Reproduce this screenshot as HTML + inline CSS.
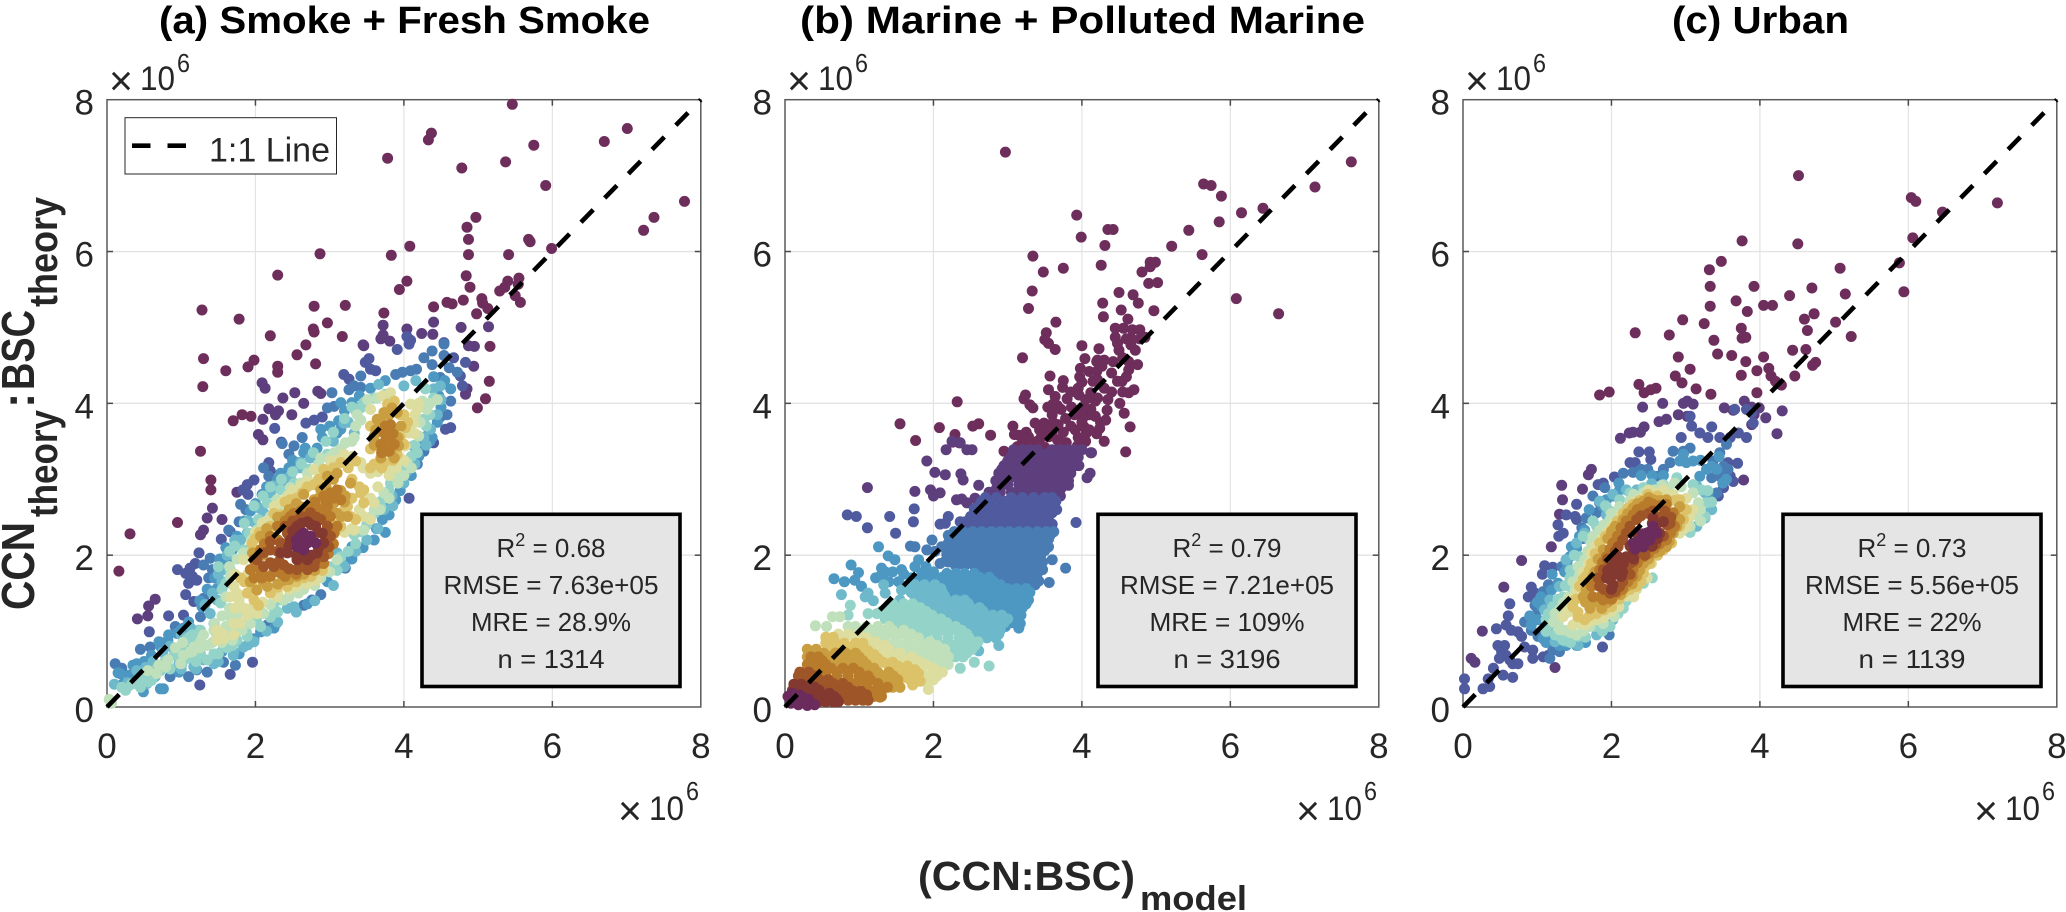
<!DOCTYPE html>
<html lang="en">
<head>
<meta charset="utf-8">
<title>CCN:BSC theory versus model scatter panels</title>
<style>
html,body{margin:0;padding:0;background:#fff;}
#figure{display:block;width:2066px;height:912px;font-family:"Liberation Sans",sans-serif;}
</style>
</head>
<body>
<svg id="figure" width="2066" height="912" viewBox="0 0 2066 912"></svg>
<script>
// ---------- shared axis content ----------
const tickValues = [0, 2, 4, 6, 8];
const gridValues = [2, 4, 6];
const axisMax = [8];
const identityLine = [0, 8];
const panelTitles = ["(a) Smoke + Fresh Smoke", "(b) Marine + Polluted Marine", "(c) Urban"];
const r2Labels = ["0.68", "0.79", "0.73"];
const rmseLabels = ["7.63e+05", "7.21e+05", "5.56e+05"];
const mreLabels = ["28.9%", "109%", "22%"];
const countLabels = ["1314", "3196", "1139"];

// ---------- series: [x,y,x,y,...] in units of 10^6, one list per density level (low to high) ----------
const smokeByDensity = [
[5.46,7.94,4.37,7.56,4.33,7.47,6.70,7.45,7.01,7.62,5.75,7.40,3.78,7.23,5.37,7.18,4.78,7.10,5.91,6.87,7.78,6.66,7.37,6.45,7.23,6.28,4.97,6.45,4.85,6.32,4.87,6.16,5.68,6.16,5.70,6.13,5.99,6.04,4.87,5.96,5.41,5.96,4.08,6.07,3.83,5.95,2.87,5.97,2.30,5.69,4.84,5.68,4.89,5.53,4.04,5.61,3.94,5.50,5.55,5.65,5.40,5.61,5.54,5.57,5.29,5.48,5.36,5.53,5.50,5.42,5.57,5.33,5.05,5.38,5.06,5.32,4.80,5.36,4.58,5.33,4.65,5.31,5.13,5.25,4.40,5.27,3.21,5.29,2.79,5.28,1.28,5.23,4.98,5.18,3.73,5.19,1.78,5.11,2.97,5.06,2.78,4.98,2.79,4.94,2.20,4.89,3.17,4.88,5.16,4.75,2.68,4.77,2.56,4.64,1.30,4.59,1.60,4.43,1.29,4.22,1.90,4.48,1.98,4.57,2.30,4.49,2.30,4.41,2.81,4.52,1.26,3.37,1.40,2.99,1.40,2.86,0.95,2.43,0.31,2.28,0.16,1.79,1.70,3.77,1.82,3.85,1.94,3.83,5.15,4.29,5.10,4.06,4.99,3.94],
[4.40,5.07,3.72,5.03,5.14,5.01,4.77,5.00,4.04,4.98,4.24,4.92,4.39,4.91,3.72,4.90,3.69,4.85,3.81,4.82,3.45,4.77,3.46,4.76,4.95,4.75,4.87,4.76,2.09,4.27,2.13,4.20,2.53,4.14,2.37,4.07,2.65,4.00,2.84,4.16,2.88,4.13,2.18,3.93,2.31,3.90,2.27,3.85,2.49,3.85,2.10,3.79,1.42,2.62,1.35,2.49,1.30,2.33,1.26,2.27,0.65,1.42,0.56,1.33,0.55,1.20,0.41,1.16,4.94,4.49,4.85,4.19,4.83,4.12,2.04,3.59,2.10,3.52,1.55,2.47,1.75,2.83],
[4.04,4.88,4.09,4.83,4.07,4.78,3.91,4.71,2.26,3.67,2.35,3.49,2.68,3.74,2.79,3.78,2.90,3.82,1.24,2.03,1.19,1.89,1.12,1.83,1.06,1.76,1.15,1.72,1.10,1.63,1.21,1.67,0.95,1.81,1.06,1.48,1.17,1.39,0.83,1.20,1.03,1.21,0.57,0.99,1.66,2.31,1.54,2.21,1.96,0.59,1.66,0.43,1.25,0.29,4.07,2.75,3.53,4.59,3.48,4.54,3.55,4.45,3.62,4.43,3.19,4.38,3.26,4.32,4.54,4.80,4.67,4.60,4.83,4.54,4.76,4.36,4.79,4.23,4.63,3.68,4.56,3.66,4.40,3.48,2.18,3.22,2.20,3.11,1.98,2.99,1.89,2.93,1.83,2.86,1.90,2.80],
[4.54,4.78,4.27,4.60,4.38,4.69,4.54,4.63,4.38,4.51,4.49,4.34,4.61,4.47,4.72,4.41,3.42,4.36,3.33,4.23,3.26,4.18,3.42,4.21,3.89,4.38,3.98,4.41,4.09,4.43,4.17,4.45,3.03,4.14,2.97,3.94,3.06,3.96,4.63,4.03,4.58,3.85,4.49,3.82,4.31,3.57,4.27,3.37,2.11,3.15,2.18,3.04,2.45,3.33,2.52,3.44,2.63,3.55,2.36,3.47,1.80,2.67,1.87,2.60,1.78,2.44,1.64,2.33,1.39,1.96,1.30,1.87,1.42,1.81,1.37,1.70,1.30,1.43,1.26,1.19,2.28,1.10,2.16,1.08,2.88,1.48,2.76,1.41,2.65,1.34,3.21,1.83,3.98,2.94,4.18,3.20,0.92,1.06,0.58,0.79,0.45,0.76,0.11,0.57,0.20,0.51,1.73,0.55,1.57,0.59,1.35,0.46,1.21,0.49,1.10,0.40,0.85,0.40],
[2.88,3.66,2.90,3.55,2.83,3.41,3.12,3.77,3.15,3.66,3.10,3.61,3.15,4.01,3.30,4.01,2.67,3.41,2.34,3.08,2.45,3.15,2.58,3.22,2.09,2.80,2.20,2.83,1.93,2.58,1.57,1.89,1.62,1.94,1.69,2.07,1.55,1.59,1.48,1.56,1.28,1.32,1.15,1.01,1.03,1.04,0.94,0.97,0.70,0.86,0.83,0.95,2.25,1.04,1.98,0.90,2.07,0.99,1.78,0.70,1.55,0.73,0.97,0.46,0.76,0.24,0.72,0.24,0.49,0.20,0.58,0.62,0.40,0.57,0.22,0.31,0.18,0.44,3.89,2.73,3.82,2.69,3.80,2.53,3.71,2.47,3.63,2.35,4.25,3.46,4.38,3.55,4.52,4.25,4.47,4.10,4.63,4.19,2.70,1.36,2.97,1.65,3.30,2.11,3.24,1.94],
[3.66,4.25,4.00,4.23,4.16,4.30,3.19,3.74,3.33,3.61,2.74,3.28,2.61,3.22,2.38,2.95,2.25,2.91,2.47,3.04,2.11,2.56,2.00,2.42,1.89,2.29,1.80,2.20,1.60,1.81,1.55,1.65,1.48,1.41,1.39,1.23,1.24,1.01,1.08,0.86,0.81,0.59,0.65,0.40,0.54,0.31,0.40,0.31,0.27,0.26,1.98,0.86,1.84,0.79,1.71,0.73,3.84,2.78,3.73,2.60,4.13,3.44,4.27,3.55,4.36,3.66,4.04,3.11,4.40,4.19,4.49,4.23,3.15,1.92,3.10,2.03,2.52,1.32,2.43,1.30,1.44,0.57,1.30,0.62,1.17,0.53,0.97,0.57],
[3.35,3.90,3.42,3.94,3.46,4.01,3.60,4.07,3.75,4.12,2.97,3.33,3.10,3.33,2.88,3.28,2.72,3.13,2.52,2.95,2.34,2.86,2.16,2.69,2.04,2.47,1.91,2.29,1.84,2.07,1.66,1.81,1.60,1.63,1.53,1.37,1.44,1.10,1.26,1.01,1.12,0.86,0.97,0.70,0.72,0.48,0.56,0.33,0.45,0.26,0.20,0.26,2.07,1.06,1.89,0.93,1.69,0.81,1.57,0.81,1.44,0.70,1.26,0.70,1.08,0.64,1.01,0.57,2.34,1.41,2.25,1.30,3.42,2.31,3.33,2.27,3.73,2.75,3.69,2.64,3.82,2.95,3.96,3.08,4.18,3.35,4.27,3.79,4.40,4.07,4.29,4.19,3.15,1.98],
[3.51,4.05,3.64,4.07,3.37,3.85,3.33,3.55,3.21,3.48,3.06,3.35,2.88,3.28,2.70,3.08,2.61,2.95,2.47,2.89,2.29,2.73,2.20,2.51,2.02,2.33,1.84,2.03,1.66,1.72,1.60,1.45,1.66,1.19,1.60,1.06,1.44,1.01,1.26,0.86,1.15,0.73,0.99,0.57,0.79,0.53,0.67,0.44,1.82,1.01,1.93,1.10,2.11,1.23,2.38,1.41,2.58,1.50,2.88,1.70,3.10,1.94,3.46,2.33,3.60,2.60,3.73,2.82,3.87,3.04,4.04,3.22,4.20,3.57,4.31,3.92,4.25,4.03,4.45,4.05,1.48,0.93,1.35,0.81,1.55,0.95,1.69,0.88,1.17,0.79,1.03,0.68,0.03,0.10,0.06,0.05],
[3.71,4.10,3.82,4.14,3.55,3.92,4.09,3.99,4.18,3.92,4.13,3.74,4.07,3.61,4.02,3.44,3.96,3.26,3.78,3.13,3.55,3.08,3.42,3.22,3.19,3.33,3.01,3.24,2.79,3.13,2.61,2.91,2.43,2.78,2.25,2.64,2.09,2.42,2.11,2.29,1.96,2.11,1.84,1.94,1.71,1.59,1.78,1.41,1.89,1.21,2.02,1.23,1.80,1.10,1.71,1.10,2.29,1.45,2.56,1.59,2.81,1.67,2.94,1.81,3.33,2.33,3.55,2.47,3.60,2.69,3.46,2.51,1.48,1.01,1.55,0.97,1.80,1.32,1.66,1.45,1.48,0.88,1.57,0.90,1.71,0.95],
[3.78,3.99,3.87,4.03,4.00,3.85,4.02,3.68,4.00,3.46,3.91,3.33,3.73,3.22,3.55,3.15,3.35,3.24,3.15,3.22,2.92,3.13,2.79,2.93,2.63,2.82,2.47,2.73,2.34,2.53,2.20,2.38,2.16,2.31,2.00,2.22,1.80,1.70,1.89,1.50,2.04,1.34,1.98,1.41,2.20,1.50,2.43,1.59,2.65,1.70,3.42,2.82,3.46,2.69,3.35,2.47,3.15,2.38,3.46,2.86,3.24,2.64,3.28,2.51],
[3.84,3.94,3.91,3.88,3.96,3.70,3.87,3.66,3.93,3.44,3.87,3.28,3.69,3.28,3.60,3.57,3.64,3.79,3.73,3.88,3.10,3.08,2.97,3.04,3.28,2.95,3.21,2.78,3.06,2.69,2.88,2.86,2.79,2.73,2.61,2.64,2.47,2.60,3.15,2.51,3.24,2.51,2.38,2.51,2.29,2.38,2.02,1.54,1.93,1.65,2.16,1.59,2.38,1.67,2.56,1.72,2.74,1.81,2.88,1.89,2.07,2.25,1.96,2.03],
[3.73,3.61,3.80,3.52,3.87,3.46,3.69,3.46,3.80,3.37,3.75,3.70,3.82,3.72,3.10,2.86,3.01,2.82,2.92,2.78,3.15,2.73,2.97,2.64,2.88,2.60,2.74,2.64,2.61,2.58,2.47,2.51,2.20,2.25,2.07,2.07,1.98,1.94,1.93,1.81,2.07,1.81,2.20,1.72,2.34,1.76,2.47,1.81,2.09,1.70,1.98,1.70,2.92,1.89,3.06,2.29,3.10,2.38,3.01,2.51],
[2.20,2.18,2.11,2.03,2.02,1.94,2.20,2.07,2.11,1.85,2.25,1.85,2.38,1.87,2.61,2.51,2.74,2.56,2.88,2.47,2.97,2.38,3.01,2.25,2.99,2.11,2.92,1.98,2.79,1.85,2.70,1.81,2.56,1.81,2.34,2.16,2.43,2.29,2.49,2.40],
[2.56,2.38,2.70,2.44,2.81,2.38,2.90,2.29,2.92,2.16,2.83,2.03,2.70,1.94,2.56,1.94,2.43,2.03,2.47,2.20,2.34,2.03,2.52,2.29],
[2.65,2.29,2.74,2.25,2.81,2.16,2.65,2.07,2.56,2.11,2.70,2.16,2.63,2.18]
];
const smokeInfill = [
[],[],[],[],
[0.15,0.45,0.30,0.42,0.35,0.55,0.50,0.60,0.60,0.68,0.72,0.80,0.82,0.88,1.00,1.02,1.10,1.12,1.25,1.40,1.35,1.55,1.45,1.70,1.52,1.95,1.60,2.10,1.75,2.25,1.85,2.45,2.00,2.68,2.15,2.90,2.30,3.00,2.50,3.25,2.65,3.35,3.00,3.70,3.20,3.90,3.40,4.10,3.55,4.20,3.75,4.30,3.30,1.95,3.45,2.10,3.60,2.20,3.75,2.30,3.95,2.85,4.10,3.05,4.20,3.30,4.35,3.50,4.45,3.75,4.50,3.95,4.55,4.30,4.40,4.35],
[0.10,0.30,0.28,0.32,0.40,0.48,0.52,0.52,0.62,0.60,0.75,0.72,0.85,0.80,1.00,0.95,1.12,1.05,1.32,1.35,1.42,1.50,1.50,1.75,1.62,2.00,1.72,2.20,1.90,2.45,2.05,2.62,2.20,2.82,2.40,3.00,2.60,3.15,2.80,3.30,3.05,3.50,3.25,3.75,3.40,3.95,1.00,0.50,1.20,0.50,1.50,0.60,1.70,0.68,1.90,0.82,2.15,1.00,2.30,1.12,2.55,1.25,2.80,1.40,3.05,1.60,3.20,1.85,3.35,2.05,3.50,2.20,3.65,2.35,3.85,2.65,4.00,2.95,4.15,3.20,4.30,3.45,4.45,3.85,4.50,4.05],
[0.25,0.22,0.33,0.30,0.42,0.35,0.50,0.42,0.60,0.35,0.68,0.52,0.78,0.60,0.85,0.50,0.90,0.68,1.00,0.78,1.08,0.90,1.15,0.95,1.20,0.60,1.35,0.62,1.50,0.70,1.62,0.78,1.75,0.88,1.88,0.98,2.02,1.12,2.20,1.18,2.30,1.25,1.50,1.85,1.55,1.55,1.65,2.05,1.72,2.12,1.85,2.42,1.98,2.65,2.10,2.78,2.20,2.90,2.35,3.00,2.50,3.10,2.62,3.20,2.78,3.35,2.95,3.50,3.05,3.62,3.20,3.80,3.30,3.95,3.00,1.85,3.10,1.80,3.25,2.05,3.35,2.15,3.50,2.40,3.60,2.55,3.68,2.70,3.80,2.85,3.90,3.00,4.00,3.12,4.10,3.30,4.15,3.45,4.30,3.70,4.35,3.85],
[0.55,0.48,0.70,0.55,0.82,0.62,0.92,0.78,1.02,0.85,1.12,0.72,1.25,0.78,1.30,0.95,1.42,0.85,1.45,1.10,1.55,0.85,1.62,0.98,1.72,1.02,1.55,1.20,1.65,1.30,1.75,1.20,1.90,1.18,2.05,1.30,2.20,1.35,2.45,1.45,2.65,1.55,2.80,1.60,3.00,1.78,1.65,1.85,1.75,1.95,1.95,2.20,2.05,2.30,2.30,2.60,2.55,2.85,2.70,3.00,2.85,3.20,3.00,3.30,3.15,3.40,3.30,3.50,3.35,3.70,3.42,3.78,3.55,2.50,3.68,2.60,3.80,2.75,3.92,2.95,4.00,3.05,4.10,3.15,4.22,3.75,4.35,4.00],
[1.72,1.75,1.75,1.50,1.72,1.30,1.85,1.30,1.95,1.30,1.90,1.75,2.10,1.38,2.30,1.50,2.45,1.55,2.70,1.62,2.85,1.75,2.00,2.30,2.15,2.45,2.35,2.70,2.50,2.85,2.70,2.98,2.90,3.05,3.10,3.25,3.30,3.30,3.45,3.15,3.65,3.10,3.80,3.05,3.90,3.15,4.00,3.25,4.15,3.60,4.15,3.85,4.20,4.00,3.65,2.90,3.55,2.75,3.40,2.60,3.30,2.35,3.20,2.30],
[1.85,1.65,1.95,1.60,1.95,2.15,2.05,2.30,2.25,2.55,2.40,2.70,2.55,2.75,2.70,2.90,2.85,3.00,3.05,3.15,3.25,3.15,3.30,3.00,3.40,2.90,3.30,2.75,3.20,2.60,3.10,2.35,3.05,2.40,2.30,1.58,2.55,1.65,2.75,1.72,2.90,1.80,3.60,3.20,3.70,3.15,3.85,3.25,3.95,3.55,3.95,3.85,4.05,3.75,3.55,3.40,3.55,3.70],
[2.10,2.00,2.15,2.35,2.30,2.50,2.45,2.60,2.55,2.68,2.65,2.80,2.85,2.75,2.95,2.90,3.05,3.00,3.15,2.85,3.20,2.70,3.10,2.55,3.00,2.60,2.98,2.72,2.10,1.65,2.30,1.62,2.45,1.68,2.65,1.75,2.80,1.80,3.60,3.45,3.70,3.40,3.82,3.35,3.92,3.55,3.70,3.75,3.80,3.85,3.62,3.65],
[2.12,2.15,2.30,2.20,2.00,1.85,2.10,1.75,2.25,1.78,2.40,1.72,2.55,1.75,2.70,1.85,2.85,1.90,2.98,2.02,3.05,2.15,3.02,2.35,2.95,2.50,2.80,2.58,2.68,2.55,2.52,2.55,2.40,2.45,2.30,2.38,3.75,3.50,3.70,3.35,3.78,3.62,3.85,3.60,3.05,2.75,2.95,2.68,2.80,2.70],
[2.30,2.05,2.40,2.15,2.20,1.90,2.32,1.92,2.45,1.82,2.65,1.85,2.80,1.92,2.90,2.05,2.95,2.30,2.82,2.50,2.65,2.50,2.50,2.45,2.40,2.38],
[2.45,2.12,2.55,2.00,2.65,1.98,2.75,2.00,2.85,2.10,2.85,2.30,2.75,2.40,2.62,2.42,2.50,2.32],
[2.60,2.25,2.68,2.22,2.75,2.20,2.62,2.12,2.55,2.20]
];

const marineByDensity = [
[2.97,7.31,7.63,7.18,7.14,6.85,5.64,6.89,5.74,6.87,5.88,6.73,6.44,6.57,6.15,6.51,5.85,6.39,3.93,6.48,3.99,6.19,4.35,6.29,4.42,6.29,4.31,6.08,5.44,6.28,5.21,6.07,5.62,5.96,3.34,5.94,4.26,5.82,3.75,5.78,3.48,5.73,4.99,5.86,4.92,5.86,4.92,5.80,4.81,5.73,4.90,5.58,5.02,5.59,3.33,5.48,4.50,5.46,4.69,5.43,4.28,5.32,4.76,5.32,3.28,5.25,4.53,5.23,4.97,5.22,6.08,5.38,6.65,5.18,4.29,5.14,4.62,5.11,3.65,5.07,4.45,4.99,4.56,4.99,4.68,4.97,4.78,4.97,3.52,4.93,3.50,4.84,3.55,4.79,3.64,4.71,4.45,4.87,4.48,4.79,4.66,4.86,4.66,4.77,4.85,4.87,4.00,4.76,4.23,4.72,3.20,4.60,4.04,4.59,4.21,4.57,4.30,4.57,4.63,4.55,4.75,4.51,3.98,4.46,4.20,4.42,4.27,4.49,4.63,4.44,4.60,4.35,4.54,4.29,4.48,4.29,3.57,4.36,3.97,4.35,4.15,4.29,4.21,4.31,3.74,4.21,3.55,4.18,3.64,4.09,3.95,4.20,3.96,4.11,4.12,4.14,4.30,4.20,4.21,4.07,4.63,4.14,4.70,4.18,3.24,4.11,3.22,4.06,3.30,3.98,3.34,3.94,3.80,4.06,3.54,3.95,3.61,3.99,3.67,3.97,3.86,3.95,3.94,3.89,4.03,3.95,4.18,4.03,4.12,3.92,4.03,3.83,4.18,3.83,4.51,4.00,4.34,3.91,4.57,3.87,4.32,3.78,4.65,3.69,4.59,3.36,2.32,4.02,1.55,3.73,2.08,3.68,1.76,3.51,2.53,3.70,2.61,3.73,2.29,3.59,2.26,3.49,2.35,3.48,2.77,3.58,3.07,3.70,3.09,3.59,3.25,3.52,3.37,3.74,3.49,3.74,3.61,3.75,3.43,3.65,3.55,3.65,3.55,3.56,3.67,3.52,3.40,3.50,3.91,3.65,4.03,3.69,4.06,3.61,3.97,3.52,3.94,3.44,4.24,3.67,4.12,3.35,3.79,3.48,3.85,3.35,3.67,3.39,3.28,3.56,3.13,3.43,2.95,3.37],
[1.91,3.24,2.02,3.09,2.16,3.06,2.37,3.07,2.40,2.99,1.11,2.89,1.75,2.84,1.96,2.86,2.00,2.78,2.09,2.82,2.61,2.92,2.38,2.74,2.31,2.73,2.45,2.69,2.56,2.75,2.17,3.39,2.25,3.50,2.36,3.48,2.45,3.39,2.52,3.39,3.08,3.39,3.20,3.39,3.30,3.39,3.40,3.39,3.60,3.39,3.70,3.39,3.80,3.39,3.90,3.39,4.00,3.39,3.04,3.29,3.15,3.29,3.30,3.29,3.45,3.29,3.65,3.29,3.75,3.29,3.85,3.29,3.95,3.29,2.95,3.18,3.10,3.18,3.22,3.18,3.35,3.18,3.58,3.18,3.68,3.18,3.80,3.18,3.92,3.18,2.88,3.08,3.00,3.08,3.18,3.08,3.32,3.08,3.45,3.08,3.55,3.08,3.65,3.08,3.75,3.08,3.85,3.08,2.84,2.98,3.00,2.98,3.28,2.98,3.40,2.98,3.50,2.98,3.60,2.98,3.70,2.98,3.82,2.98,2.85,2.88,3.22,2.88,3.32,2.88,3.42,2.88,3.52,2.88,3.62,2.88,3.72,2.88,3.82,2.92,3.71,2.78,4.11,3.08,4.07,3.02,3.96,3.18,3.84,3.24,4.13,3.35],
[0.84,2.53,0.96,2.51,1.11,2.36,1.41,2.51,1.49,2.29,1.74,2.61,1.73,2.44,2.09,2.41,2.20,2.51,2.16,2.42,2.36,2.44,2.43,2.44,3.92,2.43,3.66,2.60,3.62,2.31,2.70,2.76,2.85,2.76,3.05,2.76,3.20,2.76,3.35,2.76,3.50,2.76,3.60,2.76,2.62,2.66,2.75,2.66,2.92,2.66,3.10,2.66,3.22,2.66,3.35,2.66,3.48,2.66,3.60,2.66,2.62,2.56,2.75,2.56,2.87,2.56,3.00,2.56,3.12,2.56,3.25,2.56,3.37,2.56,3.50,2.56,3.60,2.56,2.55,2.46,2.67,2.46,2.80,2.46,2.92,2.46,3.05,2.46,3.17,2.46,3.30,2.46,3.42,2.46,3.55,2.46,2.48,2.36,2.60,2.36,2.72,2.36,2.85,2.36,2.97,2.36,3.10,2.36,3.22,2.36,3.35,2.36,3.47,2.36,3.57,2.36],
[1.98,2.20,1.75,2.11,1.69,2.12,1.91,2.07,3.60,1.94,3.78,1.83,3.56,1.64,2.20,2.16,2.11,2.11,2.02,2.05,2.09,1.89,2.16,1.92,2.20,2.26,2.32,2.26,2.45,2.26,2.57,2.26,2.70,2.26,2.82,2.26,2.95,2.26,3.07,2.26,3.20,2.26,3.32,2.26,3.45,2.26,3.57,2.26,2.25,2.16,2.37,2.16,2.50,2.16,2.62,2.16,2.75,2.16,2.87,2.16,3.00,2.16,3.12,2.16,3.25,2.16,3.37,2.16,3.50,2.16,2.25,2.06,2.37,2.06,2.50,2.06,2.62,2.06,2.75,2.06,2.87,2.06,3.00,2.06,3.12,2.06,3.25,2.06,3.37,2.06,3.50,2.06,2.28,1.96,2.40,1.96,2.52,1.96,2.65,1.96,2.77,1.96,2.90,1.96,3.02,1.96,3.15,1.96,3.27,1.96,3.40,1.96,2.30,1.86,2.42,1.86,2.55,1.86,2.67,1.86,2.80,1.86,2.92,1.86,3.05,1.86,3.17,1.86,3.30,1.86,3.42,1.86,2.65,1.76,2.77,1.76,2.90,1.76,3.02,1.76,3.15,1.76,3.27,1.76,3.40,1.76,2.92,1.66,3.05,1.66,3.17,1.66,3.30,1.66,3.42,1.66],
[1.26,2.11,1.39,1.99,1.48,1.94,0.89,1.87,0.99,1.77,1.30,1.83,1.28,1.72,1.22,1.70,1.57,1.81,1.53,1.65,1.62,1.59,1.80,1.94,1.84,1.76,1.93,1.72,1.98,1.59,1.89,1.59,1.71,1.61,1.80,1.67,0.66,1.69,0.80,1.65,0.94,1.67,1.03,1.59,2.18,1.76,2.30,1.76,2.42,1.76,2.55,1.76,2.18,1.66,2.30,1.66,2.42,1.66,2.55,1.66,2.68,1.66,2.80,1.66,2.25,1.56,2.37,1.56,2.50,1.56,2.62,1.56,2.75,1.56,2.87,1.56,3.00,1.56,3.12,1.56,3.25,1.56,2.25,1.46,2.37,1.46,2.50,1.46,2.62,1.46,2.75,1.46,2.87,1.46,3.00,1.46,3.12,1.46,3.25,1.46,2.55,1.36,2.67,1.36,2.80,1.36,2.92,1.36,3.05,1.36,3.17,1.36,3.25,1.36,2.80,1.26,2.92,1.26,3.05,1.26,3.15,1.26,3.17,1.10,2.97,1.06,3.15,1.04],
[0.76,1.48,1.12,1.50,1.19,1.40,1.08,1.45,1.33,1.61,1.35,1.50,1.57,1.54,1.55,1.41,1.65,1.56,1.80,1.56,1.95,1.56,2.10,1.56,1.75,1.46,1.90,1.46,2.05,1.46,2.15,1.46,1.85,1.36,1.97,1.36,2.10,1.36,2.22,1.36,2.35,1.36,2.47,1.36,2.05,1.26,2.17,1.26,2.30,1.26,2.42,1.26,2.55,1.26,2.67,1.26,2.25,1.16,2.37,1.16,2.50,1.16,2.62,1.16,2.75,1.16,2.87,1.16,3.00,1.16,2.40,1.06,2.52,1.06,2.65,1.06,2.77,1.06,2.90,1.06,2.52,0.96,2.65,0.96,2.77,0.96,2.88,0.96,2.88,0.81,2.61,0.74],
[0.88,1.34,0.85,1.21,1.12,1.23,1.24,1.23,2.75,0.54,2.55,0.59,1.45,1.36,1.60,1.36,1.72,1.36,1.30,1.26,1.45,1.26,1.60,1.26,1.75,1.26,1.90,1.26,1.35,1.16,1.50,1.16,1.65,1.16,1.80,1.16,1.95,1.16,2.10,1.16,1.55,1.06,1.70,1.06,1.85,1.06,2.00,1.06,2.15,1.06,2.30,1.06,1.75,0.96,1.90,0.96,2.05,0.96,2.20,0.96,2.35,0.96,2.45,0.96,2.05,0.86,2.20,0.86,2.35,0.86,2.50,0.86,2.60,0.86,2.25,0.76,2.40,0.76,2.52,0.76,2.30,0.66,2.40,0.66,2.36,0.51],
[0.64,1.19,0.74,1.19,0.41,1.07,0.56,1.06,0.85,1.06,0.92,1.04,0.95,1.06,1.10,1.06,1.25,1.06,1.40,1.06,1.10,0.96,1.25,0.96,1.40,0.96,1.55,0.96,1.70,0.96,1.35,0.86,1.50,0.86,1.65,0.86,1.80,0.86,1.95,0.86,1.55,0.76,1.70,0.76,1.85,0.76,2.00,0.76,2.15,0.76,1.75,0.66,1.90,0.66,2.05,0.66,2.20,0.66,2.05,0.56,2.20,0.56],
[0.72,0.96,0.85,0.96,1.00,0.96,0.95,0.86,1.10,0.86,1.22,0.86,1.12,0.76,1.25,0.76,1.40,0.76,1.40,0.66,1.55,0.66,1.70,0.66,1.60,0.56,1.75,0.56,1.90,0.56,1.85,0.46,2.00,0.46,2.12,0.46,1.88,0.36,2.00,0.36,1.93,0.23],
[0.55,0.92,0.65,0.92,0.55,0.84,0.68,0.84,0.80,0.84,0.95,0.84,1.05,0.84,0.85,0.74,1.00,0.74,1.12,0.74,1.10,0.64,1.25,0.64,1.40,0.54,1.52,0.54,1.65,0.54,1.55,0.44,1.68,0.44,1.80,0.44,1.70,0.34,1.82,0.34],
[0.30,0.76,0.42,0.76,0.30,0.66,0.45,0.66,0.60,0.66,0.75,0.66,0.90,0.66,1.00,0.66,0.65,0.56,0.80,0.56,0.95,0.56,1.10,0.56,1.10,0.46,1.25,0.46,1.40,0.46,1.25,0.36,1.40,0.36,1.52,0.36,1.45,0.26,1.55,0.26],
[0.35,0.66,0.45,0.66,0.30,0.56,0.42,0.56,0.55,0.56,0.42,0.46,0.55,0.46,0.70,0.46,0.85,0.46,1.00,0.46,0.70,0.36,0.85,0.36,1.00,0.36,1.15,0.36,0.95,0.26,1.10,0.26,1.25,0.26,1.38,0.26,1.20,0.14,1.30,0.14,1.28,0.13],
[0.20,0.46,0.32,0.46,0.20,0.36,0.33,0.36,0.46,0.36,0.58,0.36,0.45,0.26,0.58,0.26,0.72,0.26,0.85,0.26,0.62,0.16,0.75,0.16,0.88,0.16,1.00,0.16,1.10,0.16,0.85,0.09,0.95,0.09,1.05,0.09,1.12,0.09],
[0.12,0.30,0.22,0.30,0.10,0.22,0.22,0.22,0.34,0.22,0.46,0.22,0.30,0.14,0.42,0.14,0.54,0.14,0.66,0.14,0.45,0.07,0.55,0.07,0.65,0.07,0.72,0.07],
[0.04,0.14,0.10,0.18,0.18,0.10,0.08,0.05,0.18,0.03,0.28,0.06,0.30,0.02,0.20,0.16,0.40,0.03]
];
const marineInfill = [
[3.25,3.62,3.20,3.48,3.35,3.45,3.45,3.55,3.50,3.42,3.60,3.62,3.70,3.50,3.75,3.62,3.85,3.70,3.95,3.55,4.05,3.50,4.10,3.65,4.00,3.75,3.90,3.85,3.78,3.80,3.68,3.72,3.60,3.85,3.72,3.92,4.00,3.90,4.10,3.85,4.20,3.60,4.25,3.75,4.05,4.05,3.85,4.15,3.75,4.30,4.00,4.28,4.10,4.42,4.20,4.55,4.40,4.40,4.42,4.55,4.50,4.70,4.55,4.15,4.40,4.15,4.35,4.05,4.55,4.60,4.60,4.85,4.72,4.70,4.78,4.85,4.30,3.50,3.15,3.58],
[3.15,3.34,3.25,3.34,3.35,3.34,3.45,3.34,3.55,3.34,3.65,3.34,3.75,3.34,3.85,3.34,3.95,3.34,3.00,3.24,3.10,3.24,3.20,3.24,3.30,3.24,3.40,3.24,3.50,3.24,3.60,3.24,3.70,3.24,3.80,3.24,3.90,3.24,2.92,3.13,3.05,3.13,3.15,3.13,3.28,3.13,3.40,3.13,3.50,3.13,3.62,3.13,3.72,3.13,3.85,3.13,2.95,3.03,3.10,3.03,3.22,3.03,3.35,3.03,3.48,3.03,3.58,3.03,3.68,3.03,3.78,3.03,2.90,2.93,3.00,2.93,3.15,2.93,3.27,2.93,3.37,2.93,3.47,2.93,3.57,2.93,3.67,2.93,3.77,2.93,2.75,2.83,2.90,2.83,3.05,2.83,3.17,2.83,3.27,2.83,3.37,2.83,3.47,2.83,3.57,2.83,3.67,2.83],
[2.65,2.71,2.78,2.71,2.98,2.71,3.12,2.71,3.28,2.71,3.42,2.71,3.55,2.71,3.65,2.71,2.55,2.61,2.68,2.61,2.82,2.61,2.95,2.61,3.05,2.61,3.17,2.61,3.28,2.61,3.42,2.61,3.55,2.61,3.65,2.61,2.50,2.51,2.68,2.51,2.80,2.51,2.93,2.51,3.05,2.51,3.18,2.51,3.30,2.51,3.43,2.51,3.55,2.51,2.42,2.41,2.54,2.41,2.72,2.41,2.85,2.41,2.97,2.41,3.10,2.41,3.22,2.41,3.35,2.41,3.47,2.41,3.60,2.41],
[2.28,2.31,2.40,2.31,2.53,2.31,2.65,2.31,2.78,2.31,2.90,2.31,3.02,2.31,3.15,2.31,3.27,2.31,3.40,2.31,3.52,2.31,3.62,2.31,2.22,2.21,2.32,2.21,2.42,2.21,2.55,2.21,2.68,2.21,2.80,2.21,2.92,2.21,3.05,2.21,3.18,2.21,3.30,2.21,3.42,2.21,3.55,2.21,2.20,2.11,2.30,2.11,2.43,2.11,2.55,2.11,2.68,2.11,2.80,2.11,2.93,2.11,3.05,2.11,3.18,2.11,3.30,2.11,3.43,2.11,3.55,2.11,2.18,2.01,2.30,2.01,2.43,2.01,2.55,2.01,2.70,2.01,2.82,2.01,2.95,2.01,3.08,2.01,3.20,2.01,3.32,2.01,3.45,2.01,2.20,1.91,2.35,1.91,2.48,1.91,2.60,1.91,2.72,1.91,2.85,1.91,2.98,1.91,3.10,1.91,3.22,1.91,3.35,1.91,3.47,1.91,2.60,1.81,2.72,1.81,2.85,1.81,2.97,1.81,3.10,1.81,3.22,1.81,3.35,1.81,3.47,1.81,2.85,1.71,2.97,1.71,3.10,1.71,3.22,1.71,3.35,1.71,3.00,1.61,3.12,1.61,3.25,1.61,3.37,1.61],
[2.12,1.71,2.25,1.71,2.37,1.71,2.50,1.71,2.62,1.71,2.75,1.71,2.12,1.61,2.25,1.61,2.37,1.61,2.50,1.61,2.62,1.61,2.75,1.61,2.90,1.61,2.18,1.51,2.30,1.51,2.43,1.51,2.55,1.51,2.68,1.51,2.80,1.51,2.93,1.51,3.05,1.51,3.18,1.51,3.30,1.51,2.30,1.41,2.43,1.41,2.55,1.41,2.68,1.41,2.80,1.41,2.93,1.41,3.05,1.41,3.18,1.41,3.28,1.41,2.60,1.31,2.73,1.31,2.86,1.31,2.98,1.31,3.10,1.31,3.20,1.31,2.85,1.21,2.98,1.21,3.10,1.21,3.18,1.21,3.05,1.11,3.10,1.11,1.60,1.75,1.70,1.70,1.75,1.85,1.90,1.85,2.00,1.78,2.05,1.65,1.45,1.78,1.40,1.65,1.35,1.78],
[1.75,1.61,1.88,1.61,2.02,1.61,1.70,1.51,1.85,1.51,2.00,1.51,2.12,1.51,1.80,1.41,1.92,1.41,2.05,1.41,2.18,1.41,2.30,1.41,2.42,1.41,1.95,1.31,2.10,1.31,2.23,1.31,2.36,1.31,2.50,1.31,2.62,1.31,2.15,1.21,2.28,1.21,2.42,1.21,2.55,1.21,2.68,1.21,2.80,1.21,2.92,1.21,2.32,1.11,2.45,1.11,2.58,1.11,2.70,1.11,2.82,1.11,2.95,1.11,2.45,1.01,2.58,1.01,2.70,1.01,2.82,1.01,2.90,1.01,2.60,0.91,2.72,0.91,2.84,0.91],
[1.38,1.31,1.52,1.31,1.66,1.31,1.82,1.31,1.38,1.21,1.52,1.21,1.68,1.21,1.82,1.21,1.98,1.21,1.42,1.11,1.58,1.11,1.72,1.11,1.88,1.11,2.02,1.11,2.18,1.11,1.65,1.01,1.80,1.01,1.95,1.01,2.08,1.01,2.22,1.01,2.38,1.01,1.90,0.91,2.05,0.91,2.20,0.91,2.35,0.91,2.48,0.91,2.15,0.81,2.30,0.81,2.45,0.81,2.56,0.81,2.30,0.71,2.45,0.71],
[1.00,1.01,1.15,1.01,1.30,1.01,1.45,1.01,1.60,1.01,1.20,0.91,1.35,0.91,1.50,0.91,1.65,0.91,1.80,0.91,1.45,0.81,1.60,0.81,1.75,0.81,1.90,0.81,2.05,0.81,1.65,0.71,1.80,0.71,1.95,0.71,2.10,0.71,1.85,0.61,2.00,0.61,2.15,0.61,2.10,0.51],
[0.80,0.91,0.95,0.91,1.10,0.91,1.05,0.81,1.20,0.81,1.35,0.81,1.28,0.71,1.42,0.71,1.55,0.71,1.50,0.61,1.65,0.61,1.80,0.61,1.70,0.51,1.85,0.51,2.00,0.51,1.90,0.41,2.05,0.41,1.92,0.31],
[0.62,0.79,0.75,0.79,0.90,0.79,1.02,0.79,0.95,0.69,1.08,0.69,1.20,0.69,1.18,0.59,1.32,0.59,1.45,0.59,1.45,0.49,1.60,0.49,1.75,0.49,1.62,0.39,1.75,0.39,1.72,0.29],
[0.36,0.71,0.52,0.71,0.68,0.71,0.82,0.71,0.95,0.71,0.55,0.61,0.72,0.61,0.88,0.61,1.05,0.61,0.75,0.51,0.90,0.51,1.05,0.51,1.20,0.51,1.18,0.41,1.32,0.41,1.46,0.41,1.35,0.31,1.48,0.31],
[0.38,0.61,0.50,0.61,0.36,0.51,0.48,0.51,0.62,0.51,0.78,0.51,0.92,0.51,0.55,0.41,0.70,0.41,0.85,0.41,1.00,0.41,1.12,0.41,0.80,0.31,0.95,0.31,1.10,0.31,1.25,0.31,1.02,0.21,1.18,0.21,1.30,0.21],
[0.18,0.41,0.30,0.41,0.42,0.41,0.28,0.31,0.40,0.31,0.52,0.31,0.65,0.31,0.78,0.31,0.52,0.21,0.65,0.21,0.80,0.21,0.92,0.21,1.02,0.21,0.70,0.12,0.82,0.12,0.95,0.12,1.08,0.12],
[0.16,0.26,0.28,0.26,0.40,0.26,0.20,0.18,0.35,0.18,0.48,0.18,0.60,0.18,0.38,0.10,0.50,0.10,0.60,0.10,0.70,0.10],
[0.12,0.08,0.25,0.12,0.15,0.13,0.32,0.10]
];

const urbanByDensity = [
[4.52,7.00,6.04,6.71,6.10,6.66,7.20,6.64,6.46,6.52,6.06,6.18,3.76,6.14,4.51,6.10,3.48,5.87,3.32,5.76,5.88,5.85,5.08,5.78,3.33,5.54,3.92,5.54,4.70,5.52,4.40,5.42,5.15,5.44,5.94,5.47,3.68,5.35,3.33,5.28,4.05,5.29,4.17,5.29,3.83,5.21,4.73,5.18,2.96,5.10,4.60,5.11,3.25,5.05,5.02,5.07,3.75,4.99,4.64,4.96,2.32,4.93,2.78,4.90,5.23,4.88,3.76,4.86,3.81,4.87,3.38,4.83,4.44,4.70,4.62,4.71,3.43,4.65,3.62,4.63,4.05,4.61,2.90,4.61,3.81,4.55,4.75,4.54,4.71,4.50,3.06,4.45,4.12,4.46,3.96,4.43,4.15,4.36,4.21,4.29,4.29,4.24,3.75,4.37,4.47,4.36,2.86,4.36,2.95,4.27,2.37,4.25,2.44,4.14,2.53,4.18,2.60,4.20,3.14,4.19,1.84,4.11,1.97,4.15,3.34,4.12,3.96,4.14],
[2.69,4.00,2.42,3.95,2.97,4.00,3.02,4.03,3.10,3.99,3.79,4.03,3.89,3.95,3.99,3.94,3.52,3.94,3.64,3.91,4.30,3.90,2.64,3.76,2.74,3.79,2.90,3.85,3.02,3.83,4.08,3.81,4.23,3.60,2.44,3.69,2.39,3.62,2.12,3.54,2.24,3.61,2.29,3.62,3.92,3.85,3.89,3.72,1.73,3.13,1.69,3.06,1.33,2.92,1.34,2.73,1.30,2.54,0.79,1.93,0.55,1.58,0.26,1.00,0.11,0.64,0.16,0.59,1.24,0.52,3.78,2.99,1.61,2.87,1.19,2.11],
[2.37,3.36,2.51,3.36,2.53,3.26,2.25,3.22,2.32,3.22,1.82,2.93,1.89,2.95,2.04,3.03,1.53,2.67,1.51,2.51,1.53,2.47,1.39,2.53,1.28,2.40,1.35,2.29,1.29,2.25,1.10,1.86,1.21,1.84,1.07,1.75,0.92,1.58,0.88,1.45,0.97,1.50,0.63,1.36,0.61,1.20,0.45,1.03,0.58,1.08,0.65,1.01,0.74,0.99,0.79,0.93,0.47,0.81,0.56,0.81,0.52,0.73,0.58,0.68,0.49,0.64,0.63,0.62,0.67,0.57,0.74,0.57,0.83,0.79,0.94,0.75,0.94,0.64,1.08,0.66,1.15,0.68,0.41,0.51,0.54,0.42,0.67,0.39,0.34,0.37,0.27,0.24,0.36,0.27,0.02,0.37,0.02,0.24,1.88,0.79,3.70,3.21,3.60,3.04,3.64,2.97,3.51,2.89,3.44,2.78,3.35,3.69,3.08,3.70,3.06,3.83,3.19,3.61,3.30,3.55,3.46,3.55,3.60,3.55,3.71,3.61,3.82,3.55,3.91,3.74,3.89,3.88,3.66,3.92,3.82,3.92,2.94,3.55,3.57,3.22],
[2.16,3.08,2.29,3.09,2.40,3.13,2.49,3.13,2.83,3.37,3.06,3.41,2.97,3.37,2.79,3.22,2.70,3.13,2.63,3.04,3.46,3.35,3.37,3.24,3.55,3.46,3.51,3.17,3.57,3.13,3.46,3.04,3.35,3.02,3.42,2.82,1.75,2.78,1.84,2.69,1.80,2.56,1.91,2.89,1.66,2.49,1.60,2.36,1.62,2.22,1.39,1.94,1.33,1.85,1.24,1.59,1.15,1.61,1.08,1.52,0.97,1.34,1.01,1.28,0.83,1.12,0.92,1.01,1.01,0.93,1.21,0.75,1.30,0.73,1.17,0.64,1.97,0.95],
[2.92,3.24,3.01,3.22,3.10,3.24,2.97,3.33,3.28,3.13,3.35,3.17,3.42,3.13,3.19,3.04,3.30,2.80,2.02,2.78,1.93,2.73,1.89,2.64,2.11,2.86,1.64,2.33,1.57,2.25,1.46,2.11,1.53,2.09,1.44,1.98,1.37,1.78,1.28,1.63,1.19,1.54,1.12,1.41,1.06,1.32,1.01,1.15,0.92,1.08,1.08,0.90,1.19,0.93,1.30,0.81,1.39,0.81,1.53,0.81,1.80,1.06,1.98,1.12,3.30,2.60,3.15,2.91],
[2.88,2.96,3.15,2.91,3.26,2.82,2.34,2.86,2.20,2.86,2.54,2.94,2.02,2.80,1.84,2.71,1.93,2.53,1.64,2.29,1.53,2.16,1.39,1.94,1.44,1.81,1.30,1.59,1.17,1.41,1.10,1.28,1.15,1.06,1.12,0.99,1.24,0.86,1.39,0.86,1.55,0.81,1.80,0.95,2.02,1.15,2.13,1.30,3.15,2.38,3.26,2.49,3.35,2.60],
[2.25,2.82,2.43,2.89,2.70,2.93,2.88,3.02,3.10,2.93,3.21,2.86,3.28,2.69,3.26,2.51,3.06,2.30,2.11,2.73,1.98,2.58,1.80,2.38,1.69,2.22,1.57,1.98,1.55,1.81,1.44,1.70,1.44,1.59,1.35,1.45,1.21,1.32,1.15,1.23,1.21,1.10,1.24,0.95,1.35,0.88,1.55,0.93,1.78,1.06,1.98,1.06,2.09,1.23,2.16,1.30,2.29,1.50,2.43,1.63],
[2.43,2.82,2.58,2.86,2.76,2.87,2.94,2.90,3.10,2.82,3.17,2.69,3.15,2.53,3.06,2.38,2.11,2.64,1.98,2.47,1.84,2.33,1.73,2.16,1.64,1.94,1.57,1.74,1.51,1.54,1.35,1.37,1.24,1.23,1.28,1.10,1.37,1.01,1.53,0.95,1.71,1.06,1.89,1.10,2.04,1.19,2.34,1.59,2.25,1.50],
[2.40,2.75,2.58,2.82,2.83,2.80,3.01,2.75,3.10,2.60,3.01,2.38,2.92,2.29,2.18,2.53,2.04,2.42,1.93,2.29,1.78,2.11,1.69,1.89,1.60,1.67,1.53,1.50,1.39,1.32,1.35,1.19,1.48,1.08,1.64,1.08,1.80,1.15,2.00,1.26,2.34,1.55,2.43,1.74,2.54,1.89,2.20,1.46],
[2.49,2.80,2.92,2.73,3.01,2.60,2.97,2.47,2.81,2.16,2.70,2.07,2.52,1.89,2.43,1.76,2.34,1.59,2.16,1.50,2.00,1.32,1.80,1.23,1.64,1.15,1.55,1.19,1.48,1.32,1.57,1.59,1.66,1.72,1.73,1.89,1.84,2.16,2.00,2.33,2.16,2.55,2.29,2.67],
[2.56,2.73,2.74,2.73,2.92,2.64,2.92,2.47,2.83,2.29,2.74,2.11,2.58,2.03,2.43,1.89,2.34,1.72,2.20,1.59,2.02,1.45,1.87,1.30,1.71,1.30,1.62,1.45,1.69,1.63,1.78,1.78,1.89,2.07,2.00,2.31,2.16,2.47,2.29,2.62,2.43,2.71],
[2.56,2.67,2.74,2.67,2.83,2.56,2.85,2.38,2.74,2.20,2.58,2.09,2.43,1.98,2.29,1.81,2.22,1.65,2.07,1.50,1.89,1.41,1.75,1.45,1.73,1.59,1.84,1.81,1.93,1.98,2.02,2.16,2.13,2.36,2.29,2.53,2.43,2.64],
[2.56,2.58,2.72,2.58,2.79,2.42,2.70,2.25,2.52,2.11,2.38,2.03,2.25,1.89,2.20,1.76,2.11,1.59,1.98,1.50,1.84,1.59,1.89,1.81,2.00,1.94,2.09,2.11,2.20,2.29,2.34,2.47],
[2.56,2.49,2.70,2.44,2.65,2.29,2.47,2.16,2.29,2.03,2.16,1.89,2.13,1.72,2.02,1.61,1.93,1.70,2.00,1.85,2.09,1.98],
[2.56,2.38,2.47,2.29,2.38,2.20,2.29,2.16,2.52,2.20,2.43,2.11,2.61,2.29]
];
const urbanInfill = [
[],[],[],[],
[2.10,2.95,2.40,3.05,2.55,3.05,2.70,3.05,1.70,2.60,1.75,2.45,1.40,1.90,1.20,1.75,1.05,1.45,1.00,1.38,0.95,1.15,0.90,1.20,1.12,0.85,1.30,0.88,1.65,0.85,3.50,2.95,3.55,3.00,3.20,3.25,3.45,3.30],
[],
[1.92,2.65,1.75,2.45,1.62,2.25,1.50,2.00,1.45,1.80,1.38,1.60,1.28,1.42,1.12,1.15,1.12,1.00,1.32,0.92,1.45,0.85,1.65,0.92,1.88,1.00,2.20,1.40,2.55,1.70,3.35,2.70,3.30,2.85],
[2.25,2.72,2.00,2.55,1.90,2.40,1.75,2.25,1.68,2.05,1.55,1.85,1.48,1.65,1.42,1.45,1.30,1.28,1.22,1.12,1.30,1.02,1.45,0.98,1.62,1.00,2.30,2.80,2.68,2.92,2.85,2.95,3.20,2.60,3.20,2.45],
[2.70,2.86,2.95,2.68,3.05,2.50,2.98,2.35,1.42,1.25,1.45,1.42,1.55,1.60,1.62,1.78,1.72,2.02,1.85,2.20,1.98,2.35,2.12,2.52,2.30,2.70,2.50,2.86,2.45,1.95,2.48,1.70,2.30,1.45,2.10,1.32,1.90,1.18,1.70,1.12,1.52,1.10],
[2.62,2.78,2.85,2.72,2.95,2.55,2.92,2.38,2.62,2.00,2.45,1.85,2.40,1.65,2.25,1.55,2.10,1.42,1.90,1.28,1.70,1.20,1.55,1.25,1.52,1.42,1.62,1.68,1.70,1.80,1.78,2.02,1.92,2.25,2.08,2.45,2.22,2.62,2.38,2.72],
[2.65,2.72,2.85,2.55,2.88,2.38,2.78,2.18,2.65,2.05,2.50,1.95,2.38,1.80,2.28,1.62,2.12,1.48,1.95,1.38,1.78,1.38,1.65,1.38,1.66,1.55,1.75,1.72,1.82,1.95,1.95,2.22,2.05,2.38,2.22,2.55,2.35,2.68,2.50,2.76],
[2.65,2.65,2.80,2.45,2.80,2.30,2.65,2.15,2.50,2.02,2.35,1.90,2.28,1.72,2.15,1.55,2.00,1.42,1.85,1.45,1.78,1.62,1.88,1.90,1.98,2.08,2.08,2.25,2.20,2.45,2.35,2.60,2.50,2.70],
[2.65,2.50,2.75,2.40,2.60,2.15,2.45,2.00,2.30,1.92,2.25,1.75,2.15,1.65,2.05,1.52,1.90,1.55,1.82,1.70,1.95,1.95,2.05,2.05,2.15,2.20,2.25,2.38,2.40,2.52,2.50,2.55,2.80,2.50],
[2.60,2.40,2.55,2.42,2.40,2.25,2.60,2.35,2.35,2.28,2.25,2.12,2.20,1.98,2.10,1.85,2.05,1.75,1.98,1.68,1.95,1.80,2.05,1.92,2.15,1.78,2.00,1.55,2.62,2.22,2.55,2.12,2.30,1.95],
[2.45,2.22,2.50,2.30,2.35,2.15,2.55,2.30,2.42,2.28,2.32,2.08]
];

// ---------- colormap, indexed by density level ----------
const densityPalette = ["#6e2e5b","#5e3f7e","#4f5a9f","#4a7cb4","#4c98c2","#6db8ca","#94d3c7","#bfe0ba","#dcdd9f","#dcc268","#c99e41","#b87b2c","#9e5528","#83392f","#6b2c5d"];

// ---------- layout ----------
const svg = document.getElementById('figure');
const NS = 'http://www.w3.org/2000/svg';
const PLOT_W = 593.8, PLOT_TOP = 99.7, PLOT_BOTTOM = 707;
const panelLeft = [107, 785, 1463];
const boxLeft = [422, 1098, 1783];
const boxWidth = [258, 258, 258];
const titleLeft = [159, 800, 1672];
const titleWidth = [491, 565, 177];
const rmseWidth = [215, 214, 214];
const mreWidth = [160, 155, 139];
const countWidth = [107, 107, 107];
const seriesList = [smokeByDensity, marineByDensity, urbanByDensity];
const infillList = [smokeInfill, marineInfill, urbanInfill];
const panelNames = ['smoke', 'marine', 'urban'];

function xAxis(p, v) { return panelLeft[p] + v / axisMax[0] * PLOT_W; }
function yAxis(v) { return PLOT_BOTTOM - v / axisMax[0] * (PLOT_BOTTOM - PLOT_TOP); }

function el(tag, attrs, parent) {
  const node = document.createElementNS(NS, tag);
  for (const k in attrs) node.setAttribute(k, attrs[k]);
  (parent || svg).appendChild(node);
  return node;
}
function txt(str, x, y, size, opts, parent) {
  const o = opts || {};
  const a = { x: x, y: y, 'font-size': size, fill: o.fill || '#262626' };
  if (o.anchor) a['text-anchor'] = o.anchor;
  if (o.bold) a['font-weight'] = 'bold';
  if (o.len) { a.textLength = o.len; a.lengthAdjust = 'spacingAndGlyphs'; }
  if (o.transform) a.transform = o.transform;
  const node = el('text', a, parent);
  node.textContent = str;
  return node;
}

function drawPanel(p) {
  const left = panelLeft[p];
  const right = left + PLOT_W;
  const g = el('g', {});
  
  

  const title = txt(panelTitles[p], titleLeft[p], 33, 38, { bold: true, fill: '#000', len: titleWidth[p] }, g);
  
  

  // gridlines
  gridValues.forEach(function (v) {
    const gx = el('line', { x1: xAxis(p, v), x2: xAxis(p, v), y1: PLOT_TOP, y2: PLOT_BOTTOM, stroke: '#e3e3e3', 'stroke-width': 1.2 }, g);
    
    
    const gy = el('line', { x1: left, x2: right, y1: yAxis(v), y2: yAxis(v), stroke: '#e3e3e3', 'stroke-width': 1.4 }, g);
    
    
  });

  // plot frame
  const frame = el('rect', { x: left, y: PLOT_TOP, width: PLOT_W, height: PLOT_BOTTOM - PLOT_TOP, fill: 'none', stroke: '#5a5a5a', 'stroke-width': 1.5 }, g);
  
  

  // ticks and tick labels
  tickValues.forEach(function (v) {
    const tx = xAxis(p, v), ty = yAxis(v);
    if (v > 0 && v < axisMax[0]) {
      [[tx, PLOT_BOTTOM, tx, PLOT_BOTTOM - 6], [tx, PLOT_TOP, tx, PLOT_TOP + 6], [left, ty, left + 6, ty], [right, ty, right - 6, ty]].forEach(function (s) {
        const t = el('line', { x1: s[0], y1: s[1], x2: s[2], y2: s[3], stroke: '#4a4a4a', 'stroke-width': 1.5 }, g);
        
        
      });
    }
    const xl = txt(String(v), tx, 758, 35, { anchor: 'middle' }, g);
    
    
    const yl = txt(String(v), left - 13, ty + 15, 35, { anchor: 'end' }, g);
    
    
  });

  // exponent labels
  [[left + 5, 90, 72, 'y-axis-exponent'], [left + 514, 820, 800, 'x-axis-exponent']].forEach(function (e) {
    const m = el('g', {}, g);
    
    
    txt('\u00d7', e[0] - 3, e[1] + 5, 42, { len: 24 }, m);
    txt('10', e[0] + 28, e[1], 34, { len: 35 }, m);
    txt('6', e[0] + 65, e[2], 26, { len: 13 }, m);
  });

  // scatter points, drawn from low density to high density
  const dots = el('g', {}, g);
  
  
  seriesList[p].forEach(function (baseLevel, d) {
    const level = baseLevel.concat(infillList[p][d]);
    for (let i = 0; i + 1 < level.length; i += 2) {
      const c = el('circle', { cx: xAxis(p, level[i]).toFixed(1), cy: yAxis(level[i + 1]).toFixed(1), r: 5.5, fill: densityPalette[d] }, dots);
      
      
    }
  });

  // 1:1 line
  const line = el('line', { x1: xAxis(p, identityLine[0]), y1: yAxis(identityLine[0]), x2: xAxis(p, identityLine[1]), y2: yAxis(identityLine[1]), stroke: '#000', 'stroke-width': 4.6, 'stroke-dasharray': '17.5 16.4' }, g);
  
  

  // statistics box
  const bx = boxLeft[p], bw = boxWidth[p], cx = bx + bw / 2;
  const stats = el('g', {}, g);
  
  
  el('rect', { x: bx, y: 514.3, width: bw, height: 172.2, fill: '#e5e5e5', stroke: '#000', 'stroke-width': 3.6 }, stats);
  const r2 = txt('', cx, 557, 26, { anchor: 'middle' }, stats);
  
  
  const r = el('tspan', {}, r2); r.textContent = 'R';
  const sup = el('tspan', { dy: -11, 'font-size': 18 }, r2); sup.textContent = '2';
  const rest = el('tspan', { dy: 11 }, r2); rest.textContent = ' = ' + r2Labels[p];
  const rm = txt('RMSE = ' + rmseLabels[p], cx, 594, 26, { anchor: 'middle', len: rmseWidth[p] }, stats);
  
  
  const mr = txt('MRE = ' + mreLabels[p], cx, 631, 26, { anchor: 'middle', len: mreWidth[p] }, stats);
  
  
  const nl = txt('n = ' + countLabels[p], cx, 668, 26, { anchor: 'middle', len: countWidth[p] }, stats);
  
  
}

[0, 1, 2].forEach(drawPanel);

// legend (first panel only)
const legend = el('g', {});


el('rect', { x: 125, y: 117.7, width: 211.5, height: 56.3, fill: '#fff', stroke: '#262626', 'stroke-width': 1 }, legend);
el('line', { x1: 132, y1: 145.7, x2: 186, y2: 145.7, stroke: '#000', 'stroke-width': 4.6, 'stroke-dasharray': '18.5 17' }, legend);
txt('1:1 Line', 209, 161.7, 34, { len: 121 }, legend);

// shared axis titles
const yTitle = el('g', {});


txt('CCN', 0, 0, 46, { bold: true, len: 88, transform: 'translate(34,610) rotate(-90)' }, yTitle);
txt('theory', 0, 0, 40, { bold: true, len: 107, transform: 'translate(57,517) rotate(-90)' }, yTitle);
txt(':', 0, 0, 46, { bold: true, transform: 'translate(34,408) rotate(-90)' }, yTitle);
txt('BSC', 0, 0, 46, { bold: true, len: 80, transform: 'translate(34,390) rotate(-90)' }, yTitle);
txt('theory', 0, 0, 40, { bold: true, len: 110, transform: 'translate(57,307) rotate(-90)' }, yTitle);

const xTitle = el('g', {});


txt('(CCN:BSC)', 918, 890, 41, { bold: true, len: 217 }, xTitle);
txt('model', 1140, 910, 34, { bold: true, len: 107 }, xTitle);
</script>
</body>
</html>
